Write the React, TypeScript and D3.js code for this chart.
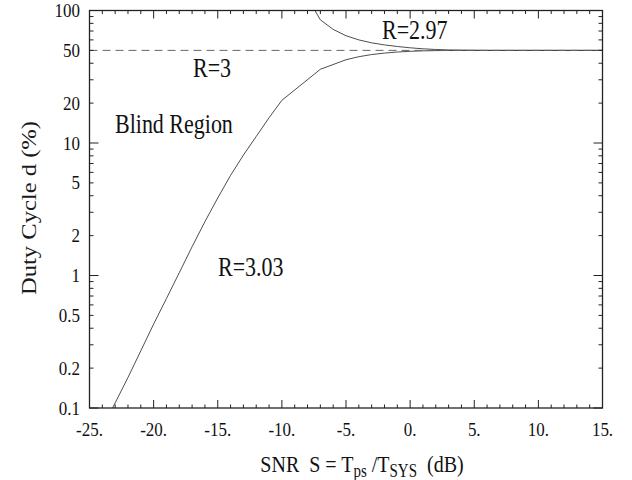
import React from "react";
import * as d3 from "d3";

// SNR (dB) and duty cycle (%) for the R = 3.03 threshold curve
const snrLow = [-23.2, -22, -21, -20, -19, -18, -17, -16, -15, -14, -13, -12, -11, -10, -7, -5, -4, -3, -2, -1, 0, 1, 2, 3, 4, 6, 8, 10, 15];
const dutyLow = [0.1, 0.17, 0.27, 0.43, 0.67, 1.05, 1.65, 2.55, 3.85, 5.7, 8.1, 11.2, 15.5, 21, 36, 42.5, 44.8, 46.5, 47.7, 48.6, 49.2, 49.6, 49.8, 49.9, 50, 50, 50, 50, 50];

// SNR (dB) and duty cycle (%) for the R = 2.97 threshold curve
const snrHigh = [-7.42, -7, -6, -5, -4, -3, -2, -1, 0, 1, 2, 3, 4, 6, 8, 10, 15];
const dutyHigh = [100, 85, 72, 64.5, 60, 57, 55, 53.5, 52.3, 51.4, 50.8, 50.4, 50.2, 50, 50, 50, 50];

// R = 3 limit
const snrMid = [-25, 15];
const dutyMid = [50, 50];

const xTicks = [-25, -20, -15, -10, -5, 0, 5, 10, 15];
const xTickLabels = ["-25.", "-20.", "-15.", "-10.", "-5.", "0.", "5.", "10.", "15."];
const yTicks = [100, 50, 20, 10, 5, 2, 1, 0.5, 0.2, 0.1];
const yTickLabels = ["100", "50", "20", "10", "5", "2", "1", "0.5", "0.2", "0.1"];
const yMajor = [0.1, 1, 10, 100];

const W = 632;
const H = 480;
const left = 89.5;
const right = 602.5;
const top = 10.5;
const bottom = 408;
const SY = 1.2; // vertical text stretch
const FONT = "Liberation Serif, Times New Roman, Times, serif";

export default function App() {
  const x = d3.scaleLinear().domain([-25, 15]).range([left, right]);
  const y = d3.scaleLog().domain([0.1, 100]).range([bottom, top]);

  const line = d3
    .line<[number, number]>()
    .x((d) => x(d[0]))
    .y((d) => y(d[1]));

  const toPts = (xs: number[], ys: number[]) => xs.map((v, i) => [v, ys[i]] as [number, number]);

  const xMinor = d3.range(-25, 15.001, 1).filter((v) => !xTicks.includes(v));
  const yMinor: number[] = [];
  [0.1, 1, 10].forEach((dec) => {
    for (let k = 2; k <= 9; k++) yMinor.push(dec * k);
  });

  const stroke = "#222";
  const tickMajX = 8;
  const tickMinX = 3.5;
  const tickMajY = 9;
  const tickMinY = 4;

  return (
    <svg
      width={W}
      height={H}
      viewBox={`0 0 ${W} ${H}`}
      style={{ position: "absolute", left: 0, top: 0, background: "#fff", fontFamily: FONT }}
    >
      <defs>
        <clipPath id="plot">
          <rect x={left} y={top} width={right - left} height={bottom - top} />
        </clipPath>
      </defs>

      {/* curves */}
      <g clipPath="url(#plot)" fill="none">
        <path d={line(toPts(snrLow, dutyLow)) || ""} stroke="#3a3a3a" strokeWidth={0.9} />
        <path d={line(toPts(snrHigh, dutyHigh)) || ""} stroke="#3a3a3a" strokeWidth={0.9} />
        <path
          d={line(toPts(snrMid, dutyMid)) || ""}
          stroke="#666"
          strokeWidth={1}
          strokeDasharray="8,5"
        />
      </g>

      {/* ticks on all four sides, pointing inward */}
      <g stroke={stroke} strokeWidth={1}>
        {xTicks.map((v) => (
          <g key={"xm" + v}>
            <line x1={x(v)} x2={x(v)} y1={bottom} y2={bottom - tickMajX} />
            <line x1={x(v)} x2={x(v)} y1={top} y2={top + tickMajX} />
          </g>
        ))}
        {xMinor.map((v) => (
          <g key={"xn" + v}>
            <line x1={x(v)} x2={x(v)} y1={bottom} y2={bottom - tickMinX} />
            <line x1={x(v)} x2={x(v)} y1={top} y2={top + tickMinX} />
          </g>
        ))}
        {yMajor.map((v) => (
          <g key={"ym" + v}>
            <line x1={left} x2={left + tickMajY} y1={y(v)} y2={y(v)} />
            <line x1={right} x2={right - tickMajY} y1={y(v)} y2={y(v)} />
          </g>
        ))}
        {yMinor.map((v) => (
          <g key={"yn" + v}>
            <line x1={left} x2={left + tickMinY} y1={y(v)} y2={y(v)} />
            <line x1={right} x2={right - tickMinY} y1={y(v)} y2={y(v)} />
          </g>
        ))}
      </g>

      {/* frame */}
      <rect
        x={left}
        y={top}
        width={right - left}
        height={bottom - top}
        fill="none"
        stroke={stroke}
        strokeWidth={1.3}
      />

      {/* tick labels */}
      <g fontSize={17} fill="#111">
        {xTicks.map((v, i) => (
          <text key={"xl" + v} transform={`translate(${x(v)},436) scale(1,1.15)`} textAnchor="middle">
            {xTickLabels[i]}
          </text>
        ))}
        {yTicks.map((v, i) => (
          <text key={"yl" + v} transform={`translate(80,${y(v) + 6.5}) scale(1,1.12)`} textAnchor="end">
            {yTickLabels[i]}
          </text>
        ))}
      </g>

      {/* annotations */}
      <g fontSize={22} fill="#111">
        <text transform={`translate(382,39) scale(1,${SY})`}>R=2.97</text>
        <text transform={`translate(193,77) scale(1,${SY})`}>R=3</text>
        <text transform={`translate(115,133) scale(1,${SY})`}>Blind Region</text>
        <text transform={`translate(218,276) scale(1,${SY})`}>R=3.03</text>
      </g>

      {/* axis titles */}
      <text
        transform={`translate(36,208) scale(1,${SY}) rotate(-90)`}
        textAnchor="middle"
        fontSize={20.5}
        fill="#1a1a1a"
      >
        Duty Cycle d (%)
      </text>
      <text
        transform={`translate(362,472) scale(1,${SY})`}
        textAnchor="middle"
        fontSize={20}
        fill="#111"
        style={{ whiteSpace: "pre" }}
      >
        <tspan>{"SNR  S = T"}</tspan>
        <tspan fontSize={15} dy={4}>ps</tspan>
        <tspan dy={-4}>{" /T"}</tspan>
        <tspan fontSize={15} dy={4}>SYS</tspan>
        <tspan dy={-4}>{"  (dB)"}</tspan>
      </text>
    </svg>
  );
}
